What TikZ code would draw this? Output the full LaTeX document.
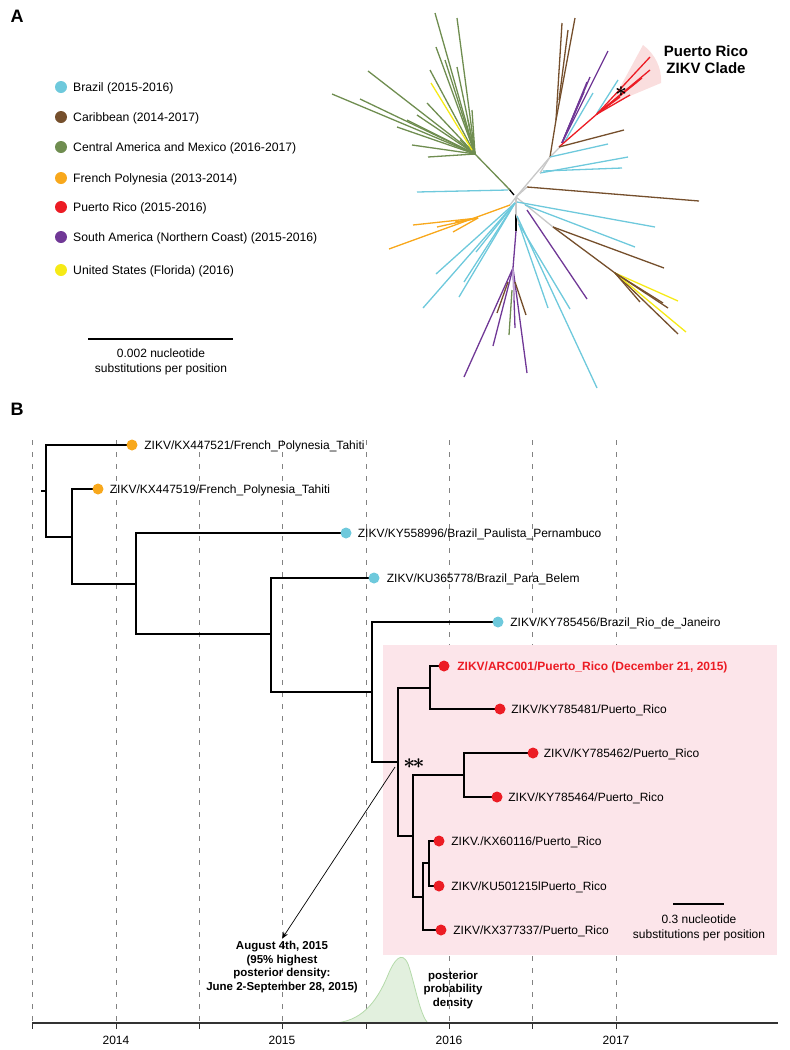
\documentclass[tikz,border=0pt]{standalone}
\usepackage{fontspec}
\setmainfont{Liberation Sans}
\usetikzlibrary{arrows.meta}
\definecolor{cbr}{RGB}{110,201,220}
\definecolor{ccar}{RGB}{117,79,44}
\definecolor{ccam}{RGB}{111,141,80}
\definecolor{cfp}{RGB}{248,168,28}
\definecolor{cpr}{RGB}{236,28,36}
\definecolor{csa}{RGB}{112,56,150}
\definecolor{clil}{RGB}{190,160,210}
\definecolor{cus}{RGB}{246,234,22}
\definecolor{cgrey}{RGB}{200,200,200}
\definecolor{pinkbox}{RGB}{252,229,234}
\definecolor{wedge}{RGB}{250,222,222}
\definecolor{densfill}{RGB}{226,240,222}
\definecolor{densedge}{RGB}{180,218,170}
\definecolor{axisc}{RGB}{50,50,50}
\definecolor{dashc}{RGB}{130,130,130}
\begin{document}
\begin{tikzpicture}[x=1pt,y=-1pt,
  ua/.style={line width=1.3pt},
  br/.style={line width=1.7pt, black},
  tipdot/.style={circle, fill=#1, draw=none, inner sep=0pt, minimum size=11pt},
  legdot/.style={circle, fill=#1, draw=none, inner sep=0pt, minimum size=12pt},
  lbl/.style={anchor=base west, inner sep=0pt, font=\fontsize{12}{14}\selectfont, yshift=-4.3pt},
  note/.style={align=center, inner sep=0pt, font=\fontsize{11.5}{13.8}\selectfont\bfseries},
  small/.style={align=center, inner sep=0pt, font=\fontsize{12}{15}\selectfont},
  vgrid/.style={dashc, line width=0.9pt, dash pattern=on 5pt off 7pt},
  astr/.style={inner sep=0pt, font=\boldmath\fontsize{20}{20}\selectfont},
]
\useasboundingbox (0,0) rectangle (790,1050);

% ================= Panel A =================
\node[font=\fontsize{18}{20}\selectfont\bfseries, inner sep=0pt] (labA) at (17,16) {A};

% legend
\foreach \y/\c/\t [count=\i] in {87/cbr/Brazil (2015-2016),
  117/ccar/Caribbean (2014-2017),
  147/ccam/Central America and Mexico (2016-2017),
  178/cfp/French Polynesia (2013-2014),
  207/cpr/Puerto Rico (2015-2016),
  237/csa/South America (Northern Coast) (2015-2016),
  270/cus/United States (Florida) (2016)} {
  \node[legdot=\c] (ld\i) at (61,\y) {};
  \node[lbl, font=\fontsize{12.2}{14}\selectfont] (lt\i) at (73,\y) {\t};
}

% scale bar A
\coordinate (sa1) at (88,339);
\coordinate (sa2) at (233,339);
\draw[line width=1.5pt] (sa1) -- (sa2);
\node[small] (satext) at (161,362) {0.002 nucleotide\\substitutions per position};

% Puerto Rico clade wedge
\fill[wedge] (611,104) -- (643,45) .. controls (655,54) and (662,68) .. (661,83) -- cycle;
\node[align=center, inner sep=0pt, font=\fontsize{15}{17}\selectfont\bfseries] (prclade) at (706,60) {Puerto Rico\\ZIKV Clade};

% backbone
\coordinate (C) at (516,197);
\draw[ua,cgrey] (C) -- (550,157) -- (561,146);
\draw[ua,cgrey] (C) -- (516,214);
\draw[ua,cgrey] (C) -- (553,227);
\draw[ua,cgrey] (C) -- (527,187);
\draw[ua,cgrey] (C) -- (510,205);
\draw[ua,black] (516,214) -- (516,231);
\draw[ua,black] (509,189) -- (514,195);

% green clade
\draw[ua,ccam] (510,190) -- (475,154);
\foreach \p in {(332,94),(360,99),(368,71),(397,127),(412,145),(428,157),(435,13),(457,18),(436,47),(430,70),(457,67),(472,110),(427,103),(417,115),(407,120),(468,120),(445,60),(460,140)}
  \draw[ua,ccam] (475,154) -- \p;
\draw[ua,cus] (472,150) -- (431,83);

% upper brown
\draw[ua,ccar] (550,157) -- (556,120) -- (562,23);
\draw[ua,ccar] (556,120) -- (575,18);
\draw[ua,ccar] (559,100) -- (568,30);
% purple upper
\foreach \p in {(608,51),(590,77),(587,82),(580,100),(584,92)}
  \draw[ua,csa] (562,143) -- \p;
% cyan upper
\draw[ua,cbr] (565,141) -- (593,93);
\draw[ua,cbr] (597,113) -- (618,80);
% red
\draw[ua,cpr] (559,147) -- (597,114);
\foreach \p in {(650,57),(650,70),(630,95),(637,82),(620,97),(642,78)}
  \draw[ua,cpr] (597,114) -- \p;
\node[astr] (ast) at (621,92) {$\ast$};
% brown and cyan right
\draw[ua,ccar] (559,147) -- (624,130);
\draw[ua,cbr] (550,157) -- (608,144);
\draw[ua,cbr] (540,173) -- (628,157);
\draw[ua,cbr] (543,171) -- (622,168);
\draw[ua,cgrey] (550,157) -- (540,173);
\draw[ua,ccar] (527,187) -- (699,201);

% left cyan
\draw[ua,cbr] (417,192) -- (508,190);
% orange
\draw[ua,cfp] (510,205) -- (389,249);
\foreach \p in {(413,225),(437,227),(453,232),(455,222)}
  \draw[ua,cfp] (478,218) -- \p;
% cyan lower left
\foreach \p in {(423,308),(436,274),(459,297),(464,282),(476,252)}
  \draw[ua,cbr] (515,203) -- \p;

% purple downward
\draw[ua,csa] (516,231) -- (513,268);
\draw[ua,csa] (513,268) -- (464,377);
\draw[ua,csa] (513,268) -- (493,346);
\draw[ua,csa] (513,268) -- (515,328);
\draw[ua,csa] (513,268) -- (527,373);
\draw[ua,clil] (513,268) -- (514,300);
\draw[ua,ccam] (512,290) -- (509,335);
\draw[ua,ccar] (508,282) -- (497,313);
\draw[ua,ccar] (515,282) -- (526,315);

% lower right
\draw[ua,cbr] (517,202) -- (655,227);
\draw[ua,cbr] (525,205) -- (635,247);
\draw[ua,cgrey] (516,214) -- (520,227);
\draw[ua,cbr] (519,224) -- (548,308);
\draw[ua,cbr] (519,224) -- (570,309);
\draw[ua,cbr] (517,216) -- (597,388);
\draw[ua,csa] (527,210) -- (587,299);
\draw[ua,ccar] (553,227) -- (664,268);
\draw[ua,ccar] (553,227) -- (615,273);
\foreach \p/\c in {(678,334)/ccar,(686,332)/cus,(678,301)/cus,(663,303)/ccar,(640,302)/ccar,(668,308)/ccar}
  \draw[ua,\c] (615,273) -- \p;

% ================= Panel B =================
\node[font=\fontsize{18}{20}\selectfont\bfseries, inner sep=0pt] (labB) at (17,409) {B};

% vertical grid
\foreach \x [count=\i] in {32,116,199,282,366,449,532,616}
  \draw[vgrid] (\x,440) -- (\x,1023);

% pink clade box
\fill[pinkbox] (383,645) rectangle (777,955);

% density
\fill[densfill] (333,1023) .. controls (360,1022) and (376,1004) .. (388,975)
  .. controls (394,960) and (402,950) .. (408,964)
  .. controls (414,980) and (420,1016) .. (428,1023) -- cycle;
\draw[densedge, line width=0.8pt] (333,1023) .. controls (360,1022) and (376,1004) .. (388,975)
  .. controls (394,960) and (402,950) .. (408,964)
  .. controls (414,980) and (420,1016) .. (428,1023);

% axis
\draw[axisc, line width=2.4pt] (32,1023) -- (778,1023);
\foreach \x in {32,116,199,282,366,449,532,616}
  \draw[axisc, line width=1pt] (\x,1023) -- (\x,1029);
\foreach \x/\t in {116/2014,282/2015,449/2016,616/2017}
  \node[small] (yr\t) at (\x,1040) {\t};

% tree internal nodes
\coordinate (r0) at (41,491);
\coordinate (n1) at (46,491);
\coordinate (n2) at (72,537);
\coordinate (n3) at (136,584);
\coordinate (n4) at (271,634);
\coordinate (n5) at (372,692);
\coordinate (n6) at (398,762);
\coordinate (n7) at (430,688);
\coordinate (n8) at (413,836);
\coordinate (n9) at (464,775);
\coordinate (n10) at (423,897);
\coordinate (n11) at (429,863);

% tips
\coordinate (t1) at (132,445);
\coordinate (t2) at (98,489);
\coordinate (t3) at (346,533);
\coordinate (t4) at (374,578);
\coordinate (t5) at (498,622);
\coordinate (t6) at (444,666);
\coordinate (t7) at (500,709);
\coordinate (t8) at (533,753);
\coordinate (t9) at (497,797);
\coordinate (t10) at (439,841);
\coordinate (t11) at (439,886);
\coordinate (t12) at (441,930);

\draw[br] (r0) -- (n1);
\foreach \a/\b in {n1/t1,n1/n2,n2/t2,n2/n3,n3/t3,n3/n4,n4/t4,n4/n5,n5/t5,n5/n6,n6/n7,n6/n8,n7/t6,n7/t7,n8/n9,n8/n10,n9/t8,n9/t9,n10/n11,n10/t12,n11/t10,n11/t11}
  \draw[br, line join=miter] (\a) |- (\b);

\foreach \t/\c in {t1/cfp,t2/cfp,t3/cbr,t4/cbr,t5/cbr,t6/cpr,t7/cpr,t8/cpr,t9/cpr,t10/cpr,t11/cpr,t12/cpr}
  \node[tipdot=\c] (d\t) at (\t) {};

\node[lbl] (l1) at ([xshift=6.5pt]dt1.east) {ZIKV/KX447521/French\_Polynesia\_Tahiti};
\node[lbl] (l2) at ([xshift=6pt]dt2.east) {ZIKV/KX447519/French\_Polynesia\_Tahiti};
\node[lbl] (l3) at ([xshift=6pt]dt3.east) {ZIKV/KY558996/Brazil\_Paulista\_Pernambuco};
\node[lbl] (l4) at ([xshift=7pt]dt4.east) {ZIKV/KU365778/Brazil\_Para\_Belem};
\node[lbl] (l5) at ([xshift=6.5pt]dt5.east) {ZIKV/KY785456/Brazil\_Rio\_de\_Janeiro};
\node[lbl, text=cpr, font=\fontsize{12}{14}\selectfont\bfseries] (l6) at ([xshift=7.5pt]dt6.east) {ZIKV/ARC001/Puerto\_Rico (December 21, 2015)};
\node[lbl] (l7) at ([xshift=5.5pt]dt7.east) {ZIKV/KY785481/Puerto\_Rico};
\node[lbl] (l8) at ([xshift=5pt]dt8.east) {ZIKV/KY785462/Puerto\_Rico};
\node[lbl] (l9) at ([xshift=5.5pt]dt9.east) {ZIKV/KY785464/Puerto\_Rico};
\node[lbl] (l10) at ([xshift=6.5pt]dt10.east) {ZIKV./KX60116/Puerto\_Rico};
\node[lbl] (l11) at ([xshift=6.5pt]dt11.east) {ZIKV/KU501215lPuerto\_Rico};
\node[lbl] (l12) at ([xshift=6.5pt]dt12.east) {ZIKV/KX377337/Puerto\_Rico};

% double asterisk and arrow
\node[astr] (dast) at (414,764) {$\ast\mkern-2mu\ast$};
\coordinate (arrstart) at (395,767);
\node[note] (aug) at (282,967) {August 4th, 2015\\(95\% highest\\posterior density:\\June 2-September 28, 2015)};
\draw[line width=0.7pt, -{Stealth[length=7pt,width=5pt]}] (arrstart) -- ([yshift=2pt]aug.north);

\node[note] (ppd) at (453,990) {posterior\\probability\\density};

% scale bar B
\coordinate (sb1) at (673,904);
\coordinate (sb2) at (724,904);
\draw[line width=1.6pt] (sb1) -- (sb2);
\node[small] (sbtext) at (699,928) {0.3 nucleotide\\substitutions per position};
\end{tikzpicture}
\end{document}
